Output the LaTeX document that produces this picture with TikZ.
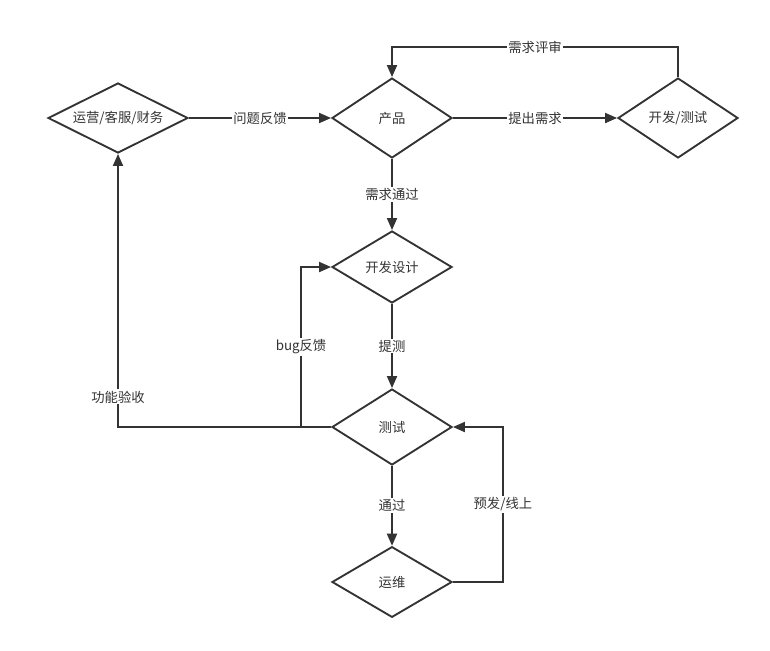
\documentclass[tikz,border=0pt]{standalone}
\usepackage{fontspec}
\setmainfont{Noto Sans CJK SC}
\usetikzlibrary{shapes.geometric,arrows.meta}
\definecolor{linegray}{HTML}{333333}

\tikzset{
    decision/.style={draw=linegray, diamond, shape aspect=2, line width=1.4pt, inner sep=0pt,
        minimum width=90pt, minimum height=57pt, text=linegray, font=\fontsize{10}{12}\selectfont},
    flow/.style={draw=linegray, line width=1.4pt, -{Triangle[length=9pt,width=7.5pt]}},
    lbl/.style={fill=white, inner sep=1pt, text=linegray, font=\fontsize{10}{12}\selectfont}
}

\begin{document}
\begin{tikzpicture}[x=0.75pt, y=-0.75pt]
    \useasboundingbox (0,0) rectangle (770,650);

    \node[decision, minimum width=105pt, minimum height=52.5pt] (yy) at (118,118) {运营/客服/财务};
    \node[decision, minimum height=60pt] (cp) at (392,118) {产品};
    \node[decision, minimum height=60pt] (dt) at (678,118) {开发/测试};
    \node[decision, minimum height=54pt] (kf) at (392,267) {开发设计};
    \node[decision] (cs) at (392,427) {测试};
    \node[decision, minimum height=53pt] (yw) at (392,582) {运维};

    \foreach \u/\v/\t in {%
        yy/cp/问题反馈,
        cp/dt/提出需求%
        }{
        \draw[flow] (\u) -- node[lbl] {\t} (\v);
    }

    \foreach \u/\v/\t in {%
        cp/kf/需求通过,
        kf/cs/提测,
        cs/yw/通过%
        }{
        \draw[flow] (\u.south) -- node[lbl] {\t} (\v.north);
    }

    \draw[flow] (dt.north) -- ++(0,-30) -| node[lbl, pos=0.25] {需求评审} (cp.north);
    \draw[flow] (cs.west) -- ++(-30,0) |- node[lbl, pos=0.25] {bug反馈} (kf.west);
    \draw[flow] (cs.west) -| node[lbl, pos=0.555] {功能验收} (yy.south);
    \draw[flow] (yw.east) -- ++(50,0) |- node[lbl, pos=0.25] {预发/线上} (cs.east);

\end{tikzpicture}
\end{document}
